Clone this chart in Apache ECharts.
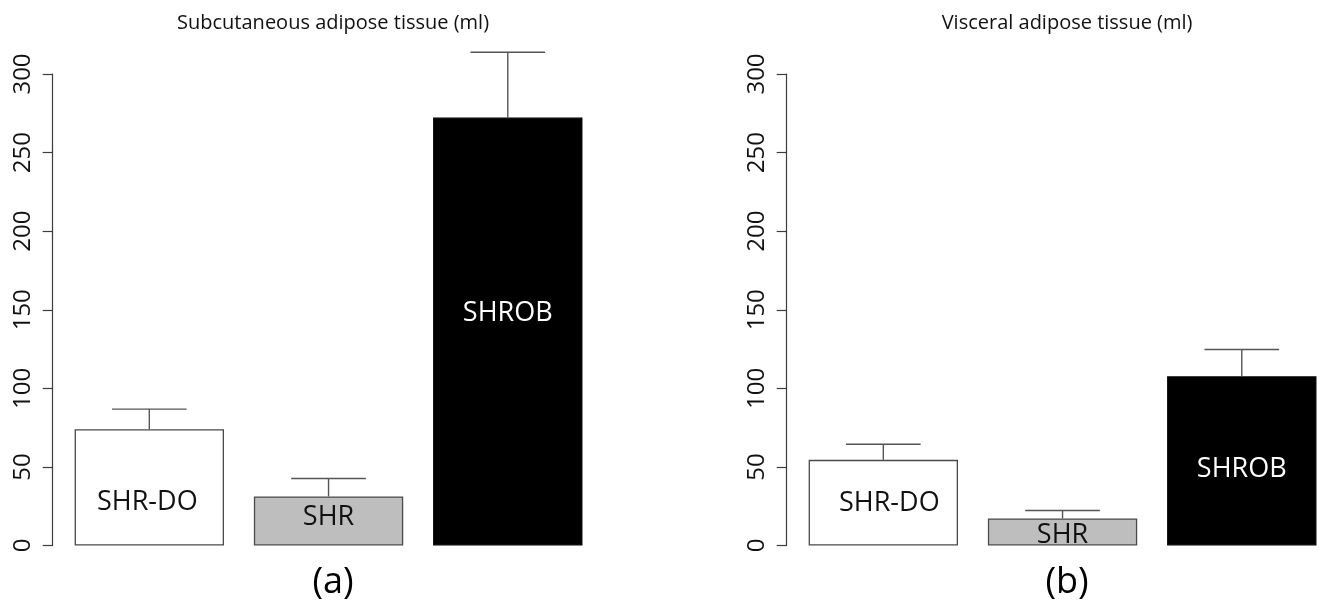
<!DOCTYPE html>
<html>
<head>
<meta charset="utf-8">
<script src="https://cdn.jsdelivr.net/npm/echarts@6/dist/echarts.min.js"></script>
<style>
  html, body { margin: 0; padding: 0; background: #ffffff; }
  #chart { width: 1326px; height: 606px; }
</style>
</head>
<body>
<div id="chart"></div>
<script>
// Adipose tissue volume by rat strain (mean with upper error bar)
const groups = ['SHR-DO', 'SHR', 'SHROB'];
const subcutMean = [74.0, 31.2, 272.3];
const subcutErr = [12.8, 11.4, 41.5];
const visceralMean = [54.5, 17.2, 107.7];
const visceralErr = [9.9, 5.1, 17.0];
const panelTitles = ['Subcutaneous adipose tissue (ml)', 'Visceral adipose tissue (ml)'];
const panelTags = ['(a)', '(b)'];
const yMin = 0, yMax = 300, yStep = 50;

const FONT = 'Open Sans';
const fills = ['#ffffff', '#bebebe', '#000000'];
const edges = ['#4a4a4a', '#4a4a4a', '#000000'];
const textColors = ['#111111', '#111111', '#ffffff'];
// label nudges inside each bar, per panel
const labelShift = [
  [[-2, 15], [0, -4], [0, -18]],
  [[6, 1], [0, 3], [0, 8]]
];

const gridLeft = [59.7, 793.7];
const gridWidth = 537.7;
const gridTop = 74;
const gridHeight = 471.5;
const gap = 1 / 6;

const panels = [
  { mean: subcutMean, err: subcutErr },
  { mean: visceralMean, err: visceralErr }
];

const grids = [], xAxes = [], yAxes = [], series = [], titles = [];

panels.forEach((p, k) => {
  const centre = gridLeft[k] - 7 + (gridWidth + 7 + 6) / 2;
  grids.push({
    left: gridLeft[k], top: gridTop, width: gridWidth, height: gridHeight,
    containLabel: false, outerBoundsMode: 'none'
  });
  xAxes.push({
    gridIndex: k, type: 'category', data: groups, show: false
  });
  yAxes.push({
    gridIndex: k, type: 'value', min: yMin, max: yMax, interval: yStep,
    offset: 7,
    axisLine: { show: true, lineStyle: { color: '#3c3c3c', width: 1.2 } },
    axisTick: { show: true, length: 10, lineStyle: { color: '#3c3c3c', width: 1.2 } },
    splitLine: { show: false },
    axisLabel: {
      rotate: 90, margin: 18, fontSize: 24, color: '#111111', fontFamily: FONT
    }
  });
  series.push({
    type: 'bar',
    xAxisIndex: k, yAxisIndex: k,
    barCategoryGap: (gap * 100).toFixed(2) + '%',
    data: p.mean.map((v, i) => ({
      value: v,
      itemStyle: { color: fills[i], borderColor: edges[i], borderWidth: 1.3 },
      label: { color: textColors[i], offset: labelShift[k][i] }
    })),
    label: {
      show: true, position: 'inside', fontSize: 27, fontFamily: FONT,
      formatter: (d) => groups[d.dataIndex]
    },
    silent: true, z: 2
  });
  series.push({
    type: 'custom',
    xAxisIndex: k, yAxisIndex: k,
    clip: false, silent: true, z: 3,
    encode: { x: 0, y: 1 },
    data: p.mean.map((v, i) => [i, v, p.err[i]]),
    renderItem: (params, api) => {
      const i = api.value(0), m = api.value(1), e = api.value(2);
      const base = api.coord([i, m]);
      const top = api.coord([i, m + e]);
      const half = api.size([1, 0])[0] * (1 - gap) / 4;
      const style = { stroke: '#555555', lineWidth: 1.4 };
      return {
        type: 'group',
        children: [
          { type: 'line', shape: { x1: base[0], y1: base[1], x2: top[0], y2: top[1] }, style },
          { type: 'line', shape: { x1: top[0] - half, y1: top[1], x2: top[0] + half, y2: top[1] }, style }
        ]
      };
    }
  });
  titles.push({
    text: panelTitles[k], left: centre, top: 8, textAlign: 'center',
    textStyle: { fontFamily: FONT, fontSize: 20, fontWeight: 'normal', color: '#111111' }
  });
  titles.push({
    text: panelTags[k], left: centre, top: 560, textAlign: 'center',
    textStyle: { fontFamily: FONT, fontSize: 36, fontWeight: 'normal', color: '#000000' }
  });
});

const chart = echarts.init(document.getElementById('chart'), null, { renderer: 'canvas' });
chart.setOption({
  backgroundColor: '#ffffff',
  animation: false,
  title: titles,
  grid: grids,
  xAxis: xAxes,
  yAxis: yAxes,
  series: series
});
</script>
</body>
</html>
